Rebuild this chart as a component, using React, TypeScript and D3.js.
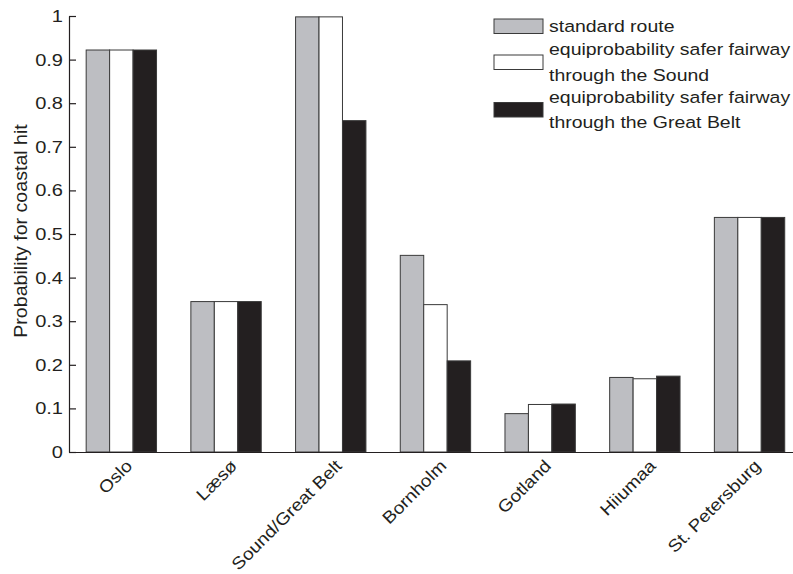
import { useEffect, useRef } from "react";
import * as d3 from "d3";

const categories = [
  "Oslo",
  "Læsø",
  "Sound/Great Belt",
  "Bornholm",
  "Gotland",
  "Hiiumaa",
  "St. Petersburg",
];
const seriesNames = [
  "standard route",
  "equiprobability safer fairway\nthrough the Sound",
  "equiprobability safer fairway\nthrough the Great Belt",
];
const standardRoute = [0.922, 0.345, 0.998, 0.451, 0.088, 0.171, 0.538];
const viaSound = [0.922, 0.345, 0.998, 0.338, 0.109, 0.168, 0.538];
const viaGreatBelt = [0.922, 0.345, 0.76, 0.209, 0.11, 0.174, 0.538];
const yTicks = [0, 0.1, 0.2, 0.3, 0.4, 0.5, 0.6, 0.7, 0.8, 0.9, 1];

const seriesValues = [standardRoute, viaSound, viaGreatBelt];
const colors = ["#bdbec2", "#ffffff", "#231f20"];
const ink = "#231f20";
const font = "'Liberation Sans', Arial, sans-serif";
const stretch = 1.18;

const App = () => {
  const ref = useRef<SVGSVGElement>(null);

  useEffect(() => {
    const svg = d3.select(ref.current);
    svg.selectAll("*").remove();

    const width = 793;
    const height = 574;
    const left = 69;
    const top = 16;
    const bottom = 452;
    const step = 104.7;

    const x = d3
      .scaleBand()
      .domain(categories)
      .range([left, left + step * categories.length])
      .paddingInner(0.328)
      .paddingOuter(0.164);
    const xs = d3
      .scaleBand()
      .domain(d3.range(seriesValues.length).map(String))
      .range([0, x.bandwidth()]);
    const y = d3.scaleLinear().domain([0, 1]).range([bottom, top]);

    const rows = categories.map((c, i) => ({
      category: c,
      values: seriesValues.map((s) => s[i]),
    }));

    svg
      .append("g")
      .selectAll("g")
      .data(rows)
      .join("g")
      .attr("transform", (d) => `translate(${x(d.category)},0)`)
      .selectAll("rect")
      .data((d) => d.values.map((v, k) => ({ v, k })))
      .join("rect")
      .attr("x", (d) => xs(String(d.k))!)
      .attr("y", (d) => y(d.v))
      .attr("width", xs.bandwidth())
      .attr("height", (d) => y(0) - y(d.v))
      .attr("fill", (d) => colors[d.k])
      .attr("stroke", "#3a3a3a")
      .attr("stroke-width", 1);

    // y axis, ticks point inward like the original
    const yAxis = svg
      .append("g")
      .attr("transform", `translate(${left},0)`)
      .call(
        d3
          .axisLeft(y)
          .tickValues(yTicks)
          .tickFormat((d) => String(d))
          .tickSizeInner(-7)
          .tickSizeOuter(0)
      );
    yAxis.selectAll("path, line").attr("stroke", ink).attr("stroke-width", 1.2);
    yAxis
      .selectAll("text")
      .attr("x", -6 / stretch)
      .attr("transform", `scale(${stretch},1)`)
      .attr("fill", ink)
      .style("font-family", font)
      .style("font-size", "17px");

    // x axis line
    svg
      .append("line")
      .attr("x1", left)
      .attr("x2", width)
      .attr("y1", bottom + 0.5)
      .attr("y2", bottom + 0.5)
      .attr("stroke", ink)
      .attr("stroke-width", 1.2);

    // rotated category labels
    svg
      .append("g")
      .selectAll("text")
      .data(categories)
      .join("text")
      .attr(
        "transform",
        (d) =>
          `translate(${x(d)! + x.bandwidth() / 2 + 12},${bottom + 15}) rotate(-45) scale(1.13,1)`
      )
      .attr("text-anchor", "end")
      .attr("fill", ink)
      .style("font-family", font)
      .style("font-size", "17px")
      .text((d) => d);

    // y label
    svg
      .append("text")
      .attr("transform", `translate(27,${(top + bottom) / 2 - 3}) rotate(-90) scale(1.09,1)`)
      .attr("text-anchor", "middle")
      .attr("fill", ink)
      .style("font-family", font)
      .style("font-size", "18px")
      .text("Probability for coastal hit");

    // legend
    const baselines = [[32], [55, 81], [103, 128]];
    const legend = svg.append("g").attr("transform", "translate(494,0)");
    seriesNames.forEach((name, i) => {
      const lines = name.split("\n");
      const bl = baselines[i];
      const mid = (bl[0] + bl[bl.length - 1]) / 2 - 6;
      legend
        .append("rect")
        .attr("x", 0)
        .attr("y", mid - 7)
        .attr("width", 49)
        .attr("height", 14.5)
        .attr("fill", colors[i])
        .attr("stroke", "#3a3a3a");
      lines.forEach((ln, j) => {
        legend
          .append("text")
          .attr("transform", `translate(55,${bl[j]}) scale(${stretch},1)`)
          .attr("fill", ink)
          .style("font-family", font)
          .style("font-size", "16.5px")
          .text(ln);
      });
    });

    svg.attr("width", width).attr("height", height);
  }, []);

  return (
    <svg
      ref={ref}
      width={793}
      height={574}
      style={{ position: "absolute", left: 0, top: 0, background: "#fff" }}
    />
  );
};

export default App;
